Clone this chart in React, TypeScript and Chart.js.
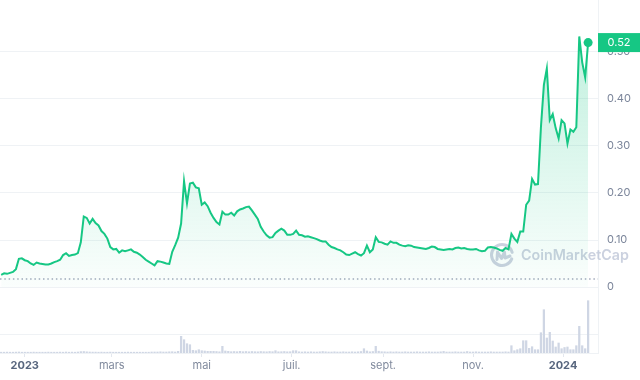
import React, { useEffect, useRef } from "react";
import { Chart, registerables } from "chart.js";
Chart.register(...registerables);

// Days are counted from 2023-01-01 (day 0). First sample: 2022-12-16, one sample every 2 days.
const START_DAY = -16;
const STEP_DAYS = 2;

const PRICES = [
  0.026, 0.029, 0.028, 0.030, 0.032, 0.038, 0.060, 0.061, 0.057, 0.055,
  0.050, 0.047, 0.052, 0.050, 0.049, 0.048, 0.048, 0.050, 0.053, 0.055,
  0.058, 0.068, 0.072, 0.066, 0.068, 0.069, 0.072, 0.095, 0.150, 0.147,
  0.135, 0.145, 0.136, 0.131, 0.119, 0.113, 0.103, 0.085, 0.080, 0.081,
  0.073, 0.078, 0.076, 0.078, 0.080, 0.075, 0.073, 0.069, 0.064, 0.058,
  0.054, 0.050, 0.046, 0.055, 0.054, 0.052, 0.050, 0.049, 0.075, 0.089,
  0.105, 0.135, 0.225, 0.178, 0.220, 0.222, 0.212, 0.210, 0.175, 0.180,
  0.172, 0.158, 0.147, 0.138, 0.133, 0.160, 0.154, 0.154, 0.158, 0.152,
  0.161, 0.165, 0.167, 0.170, 0.171, 0.163, 0.154, 0.145, 0.128, 0.118,
  0.110, 0.105, 0.106, 0.115, 0.120, 0.124, 0.120, 0.111, 0.111, 0.113,
  0.120, 0.111, 0.110, 0.107, 0.108, 0.106, 0.104, 0.102, 0.099, 0.097,
  0.097, 0.090, 0.085, 0.083, 0.080, 0.078, 0.074, 0.069, 0.068, 0.071,
  0.074, 0.070, 0.067, 0.072, 0.088, 0.074, 0.080, 0.106, 0.096, 0.095,
  0.092, 0.090, 0.097, 0.094, 0.094, 0.090, 0.088, 0.087, 0.089, 0.088,
  0.085, 0.084, 0.083, 0.082, 0.081, 0.083, 0.086, 0.085, 0.081, 0.080,
  0.079, 0.080, 0.081, 0.080, 0.083, 0.084, 0.082, 0.083, 0.081, 0.080,
  0.080, 0.081, 0.078, 0.076, 0.077, 0.084, 0.085, 0.084, 0.082, 0.079,
  0.077, 0.083, 0.080, 0.113, 0.103, 0.096, 0.118, 0.118, 0.175, 0.184,
  0.230, 0.218, 0.219, 0.340, 0.430, 0.465, 0.355, 0.368, 0.338, 0.316,
  0.355, 0.348, 0.305, 0.335, 0.330, 0.340, 0.533, 0.478, 0.446, 0.520,
];

// Trading volume (millions USD, approximate)
const VOLUMES = [
  0.8, 0.8, 0.9, 0.8, 0.8, 0.9, 1.0, 0.8, 0.8, 0.8,
  0.8, 0.9, 0.8, 0.8, 0.8, 0.8, 0.9, 0.8, 0.8, 0.8,
  0.9, 0.8, 1.0, 0.8, 0.9, 0.8, 1.0, 1.4, 1.5, 1.2,
  1.0, 0.9, 0.9, 0.8, 0.9, 0.8, 0.8, 0.9, 0.8, 0.8,
  0.8, 0.8, 0.8, 0.9, 0.8, 0.8, 0.8, 0.8, 0.8, 0.8,
  0.8, 1.0, 1.0, 1.0, 1.2, 1.0, 1.0, 1.2, 1.3, 1.0,
  1.7, 16.7, 13.3, 9.3, 8.3, 2.7, 2.3, 3.3, 2.3, 2.0,
  1.7, 1.7, 1.7, 1.5, 1.2, 6.7, 2.0, 1.7, 1.3, 1.5,
  1.3, 1.7, 1.3, 1.5, 1.2, 1.5, 1.3, 1.2, 1.5, 1.3,
  1.2, 1.5, 1.3, 2.3, 1.2, 1.3, 1.5, 1.2, 1.3, 2.3,
  2.3, 1.2, 1.0, 1.2, 1.0, 1.2, 1.0, 1.0, 1.2, 1.5,
  1.2, 1.0, 1.0, 1.2, 1.0, 1.0, 1.2, 1.0, 1.0, 1.2,
  1.0, 1.2, 1.5, 4.3, 2.0, 1.2, 1.5, 6.7, 1.8, 1.3,
  1.2, 1.0, 1.2, 1.0, 1.2, 1.0, 1.0, 1.2, 1.0, 1.0,
  1.0, 1.2, 1.0, 1.0, 1.0, 1.2, 1.0, 1.0, 1.0, 1.2,
  1.6, 1.0, 1.0, 1.0, 1.2, 1.0, 1.0, 1.0, 1.5, 1.0,
  1.0, 1.2, 1.0, 1.0, 1.0, 1.0, 1.2, 1.0, 1.0, 1.0,
  1.0, 1.2, 1.0, 7.3, 2.3, 3.3, 4.3, 12.3, 12.3, 4.7,
  6.3, 3.3, 3.3, 20.3, 43.3, 15.0, 20.7, 12.0, 6.0, 10.0,
  4.3, 5.5, 6.0, 3.3, 3.3, 7.3, 26.7, 7.3, 4.3, 52.3,
];

const OPEN_PRICE = 0.017;
const X_TICK_DAYS = [0, 59, 120, 181, 243, 304, 365];
const X_TICK_LABELS = ["2023", "mars", "mai", "juil.", "sept.", "nov.", "2024"];
const YEAR_LABELS = ["2023", "2024"];
const Y_TICKS = [-0.1, 0, 0.1, 0.2, 0.3, 0.4, 0.5];
const X_MIN = -16.8;
const X_MAX = 388.7;
const Y_MIN = -0.1404;
const Y_MAX = 0.6106;
const VOLUME_AXIS_MAX = 353;

const GREEN = "#16c784";
const GRID = "#eff2f5";
const FONT = "Inter, 'Noto Sans', sans-serif";

const watermarkPlugin = {
  id: "cmcWatermark",
  beforeDatasetsDraw(chart: any) {
    const c = chart.ctx;
    const cx = 502;
    const cy = 255;
    c.save();
    c.strokeStyle = "rgba(186,193,212,0.75)";
    c.lineWidth = 3;
    c.lineCap = "round";
    c.lineJoin = "round";
    c.beginPath();
    c.arc(cx, cy, 10.5, 0.12 * Math.PI, 1.92 * Math.PI);
    c.stroke();
    c.beginPath();
    c.moveTo(cx - 5, cy + 4.5);
    c.lineTo(cx - 4.5, cy - 3);
    c.lineTo(cx - 0.5, cy + 3.5);
    c.lineTo(cx + 2.5, cy - 3);
    c.lineTo(cx + 3, cy + 3);
    c.lineTo(cx + 8, cy + 1);
    c.stroke();
    let size = 17;
    c.font = `600 ${size}px ${FONT}`;
    const w = c.measureText("CoinMarketCap").width;
    size = (size * 108) / w;
    c.font = `600 ${size}px ${FONT}`;
    c.fillStyle = "rgba(186,193,212,0.75)";
    c.textBaseline = "middle";
    c.textAlign = "left";
    c.fillText("CoinMarketCap", 521, cy + 1);
    c.restore();
  },
};

const tagPlugin = {
  id: "priceTag",
  afterDraw(chart: any) {
    const c = chart.ctx;
    const last = PRICES[PRICES.length - 1];
    const y = chart.scales.y.getPixelForValue(last);
    const left = chart.chartArea.right;
    c.save();
    c.fillStyle = GREEN;
    c.fillRect(left, y - 9.5, chart.width - left, 19);
    c.fillStyle = "#ffffff";
    c.font = `11px ${FONT}`;
    c.textAlign = "center";
    c.textBaseline = "middle";
    c.fillText(last.toFixed(2), (left + chart.width) / 2, y + 0.5);
    c.restore();
  },
};

export default function App() {
  const ref = useRef<HTMLCanvasElement | null>(null);
  useEffect(() => {
    if (!ref.current) return;
    const xs = PRICES.map((_, i) => START_DAY + i * STEP_DAYS);
    const chart = new Chart(ref.current, {
      data: {
        datasets: [
          {
            type: "line",
            label: "Prix",
            data: PRICES.map((p, i) => ({ x: xs[i], y: p })),
            borderColor: GREEN,
            borderWidth: 2,
            tension: 0,
            pointRadius: (ctx: any) => (ctx.dataIndex === PRICES.length - 1 ? 4.5 : 0),
            pointBackgroundColor: GREEN,
            pointBorderWidth: 0,
            fill: { value: 0 },
            backgroundColor: (ctx: any) => {
              const ch = ctx.chart;
              const area = ch.chartArea;
              if (!area) return "rgba(22,199,132,0.1)";
              const bottom = ch.scales.y.getPixelForValue(0);
              const g = ch.ctx.createLinearGradient(0, area.top, 0, bottom);
              g.addColorStop(0, "rgba(22,199,132,0.30)");
              g.addColorStop(1, "rgba(22,199,132,0.02)");
              return g;
            },
            yAxisID: "y",
            order: 1,
          } as any,
          {
            type: "line",
            label: "Ouverture",
            data: [
              { x: X_MIN, y: OPEN_PRICE },
              { x: X_MAX, y: OPEN_PRICE },
            ],
            borderColor: "#a3abbd",
            borderWidth: 1.3,
            borderDash: [1.5, 2.8],
            pointRadius: 0,
            fill: false,
            yAxisID: "y",
            order: 2,
          } as any,
          {
            type: "bar",
            label: "Volume",
            data: VOLUMES.map((v, i) => ({ x: xs[i], y: v })),
            backgroundColor: "#cfd6e4",
            barThickness: 1.6,
            yAxisID: "yv",
            order: 3,
          } as any,
        ],
      },
      options: {
        responsive: false,
        animation: false,
        events: [],
        layout: { padding: 0, autoPadding: false },
        plugins: { legend: { display: false }, tooltip: { enabled: false } },
        scales: {
          x: {
            type: "linear",
            min: X_MIN,
            max: X_MAX,
            offset: false,
            afterBuildTicks: (scale: any) => {
              scale.ticks = X_TICK_DAYS.map((v) => ({ value: v }));
            },
            afterFit: (scale: any) => {
              scale.height = 27;
              scale.paddingLeft = 0;
              scale.paddingRight = 0;
            },
            grid: {
              offset: false,
              drawOnChartArea: false,
              drawTicks: true,
              tickLength: 4,
              color: "#e3e7ee",
            },
            border: { display: true, color: GRID },
            ticks: {
              autoSkip: false,
              maxRotation: 0,
              padding: 2,
              callback: (_v: any, i: number) => X_TICK_LABELS[i],
              color: (ctx: any) =>
                YEAR_LABELS.includes(X_TICK_LABELS[ctx.index]) ? "#58667e" : "#808a9d",
              font: (ctx: any) => ({
                family: FONT,
                size: 11,
                weight: YEAR_LABELS.includes(X_TICK_LABELS[ctx.index]) ? "bold" : "normal",
              }),
            },
          },
          y: {
            type: "linear",
            position: "right",
            min: Y_MIN,
            max: Y_MAX,
            afterBuildTicks: (scale: any) => {
              scale.ticks = Y_TICKS.map((v) => ({ value: v }));
            },
            afterFit: (scale: any) => {
              scale.width = 42;
              scale.paddingTop = 0;
              scale.paddingBottom = 0;
            },
            grid: { color: GRID, drawTicks: false },
            border: { display: true, color: GRID },
            ticks: {
              padding: 9,
              crossAlign: "near",
              color: "#7b859a",
              font: { family: FONT, size: 11 },
              callback: (v: any) => (v < 0 ? "" : v === 0 ? "0" : Number(v).toFixed(2)),
            },
          },
          yv: {
            type: "linear",
            display: false,
            min: 0,
            max: VOLUME_AXIS_MAX,
          },
        },
      } as any,
      plugins: [watermarkPlugin, tagPlugin],
    });
    return () => chart.destroy();
  }, []);

  return (
    <div style={{ position: "absolute", left: 0, top: 0, width: 640, height: 380, background: "#fff" }}>
      <canvas ref={ref} width={640} height={380} />
    </div>
  );
}
